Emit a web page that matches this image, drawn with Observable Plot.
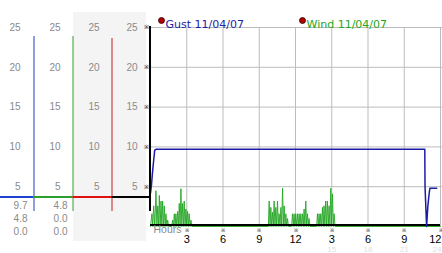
<!DOCTYPE html>
<html>
<head>
<meta charset="utf-8">
<script src="https://cdn.jsdelivr.net/npm/d3@7"></script>
<script src="https://cdn.jsdelivr.net/npm/@observablehq/plot@0.6"></script>
<style>
  html, body { margin: 0; padding: 0; background: #fff; }
  #wrap { position: relative; width: 442px; height: 253px; overflow: hidden; }
  #wrap svg { position: absolute; left: 0; top: 0; background: transparent; }
</style>
</head>
<body>
<div id="wrap"></div>
<script>
// ---------- data ----------
const yTicks = [5, 10, 15, 20, 25];
const hourTicks = [3, 6, 9, 12, 15, 18, 21, 24];
const hourLabels = ["3", "6", "9", "12", "3", "6", "9", "12"];
const faintHours = [15, 18, 21, 24];
const faintLabels = ["15", "18", "21", "24"];
const seriesNames = ["Gust 11/04/07", "Wind 11/04/07"];
const gustReadouts = ["9.7", "4.8", "0.0"];
const windReadouts = ["4.8", "0.0", "0.0"];

const gustHours  = [0,   0.08, 0.16, 0.25, 0.35, 0.45, 22.7, 22.72, 22.85, 22.95, 23.05, 23.12, 23.68];
const gustSpeeds = [4.2, 5.2,  6.7,  8.1,  9.6,  9.7,  9.7,  5.0,   0.0,   2.5,   4.0,   4.8,   4.8];

const windReadings = [
  [0,0],[0.12,1.6],[0.19,0],[0.26,2.6],[0.36,0],[0.45,4.5],[0.53,0],[0.6,2.6],[0.67,0],[0.73,3.9],
  [0.8,0],[0.87,3.2],[0.94,0],[1.0,3.2],[1.07,0],[1.14,2.6],[1.21,0],[1.28,1.6],[1.35,0],[1.42,0.8],[1.5,0],
  [1.76,0],[1.83,0.8],[1.9,0],[1.97,1.6],[2.04,0],[2.1,1.6],[2.18,0],[2.25,1.9],[2.32,0],[2.38,2.9],
  [2.45,0],[2.52,4.75],[2.59,0],[2.66,2.9],[2.73,0],[2.79,3.2],[2.86,0],[2.93,2.2],[3.0,0],[3.07,1.9],
  [3.14,0],[3.2,1.6],[3.28,0],[3.35,0.8],[3.42,0],
  [9.75,0],[9.82,3.2],[9.89,0],[9.96,2.4],[10.03,0],[10.1,1.8],[10.17,0],[10.23,3.2],[10.3,0],[10.37,2.4],
  [10.44,0],[10.51,3.2],[10.58,0],[10.64,1.6],[10.72,0],[10.79,2.4],[10.86,0],[10.93,4.8],[11.0,0],[11.06,2.6],
  [11.13,0],[11.2,1.6],[11.27,0],[11.34,1.0],[11.41,0],
  [11.68,0],[11.75,1.6],[11.82,0],[11.88,1.6],[11.95,0],[12.02,1.6],[12.1,0],[12.17,1.6],[12.24,0],[12.3,1.6],
  [12.37,0],[12.44,1.6],[12.51,0],[12.58,1.6],[12.65,0],[12.71,2.2],[12.78,0],[12.85,3.2],[12.92,0],[12.99,1.6],
  [13.06,0],[13.12,1.0],[13.19,0],
  [13.75,0],[13.82,1.6],[13.89,0],[13.95,1.6],[14.02,0],[14.09,1.6],[14.16,0],[14.23,2.4],[14.3,0],[14.36,2.6],
  [14.43,0],[14.5,3.2],[14.57,0],[14.64,3.2],[14.71,0],[14.78,2.6],[14.85,0],[14.92,4.8],[14.99,0],[15.06,4.1],
  [15.13,0],[15.2,1.6],[15.27,0],[24,0]
];

// ---------- styles ----------
const GUST = "#1c1ca6";
const WIND = "#22a622";
const GRID = "#bcbcbc";
const LABEL = "#8a8a8a";
const NUM_FONT = "Liberation Sans, Arial, sans-serif";
const W = 442, H = 253, MT = 27, MB = 27;

const gust = gustHours.map((h, i) => ({h, v: gustSpeeds[i]}));
const wind = windReadings.map(([h, v]) => ({h, v}));
const ticks = hourTicks.map((h, i) => ({h, label: hourLabels[i]}));
const faint = faintHours.map((h, i) => ({h, label: faintLabels[i]}));
const lastHour = hourTicks[hourTicks.length - 1];

// ---------- main chart ----------
const main = Plot.plot({
  width: W, height: H,
  marginLeft: 150, marginRight: 2, marginTop: MT, marginBottom: MB,
  style: {fontFamily: NUM_FONT, fontSize: "10px", background: "transparent", overflow: "visible"},
  x: {domain: [0, 24], axis: null},
  y: {domain: [0, 25], axis: null},
  marks: [
    // grid
    Plot.ruleY(yTicks, {stroke: GRID, strokeWidth: 1, insetRight: -2}),
    Plot.ruleX(hourTicks, {y1: 0, y2: 25, stroke: GRID, strokeWidth: 1}),
    // data
    Plot.line(wind, {x: "h", y: "v", stroke: WIND, strokeWidth: 0.9}),
    Plot.ruleY([0], {stroke: "#000", strokeWidth: 2, dy: -1.5}),
    Plot.line(gust, {x: "h", y: "v", stroke: GUST, strokeWidth: 1.5}),
    // left axis
    Plot.ruleX([0], {y1: 0, y2: 25, stroke: "#000", strokeWidth: 2, insetTop: -15, insetBottom: 1, dx: -0.5}),
    // tick markers
    Plot.text(yTicks, {x: 0, y: d => d, text: () => "※", dx: -4, fontSize: 6, fill: "#000"}),
    Plot.text(hourTicks, {x: d => d, y: 0, text: () => "※", dy: 4, fontSize: 5, fill: "#000"}),
    // x tick labels (last one kept inside the right edge)
    Plot.text(ticks.filter(d => d.h < lastHour), {x: "h", y: 0, text: "label", dy: 13, fontSize: 11, fill: "#000"}),
    Plot.text(ticks.filter(d => d.h === lastHour), {x: "h", y: 0, text: "label", dy: 13, dx: 1, textAnchor: "end", fontSize: 11, fill: "#000"}),
    Plot.text(faint.filter(d => d.h < lastHour), {x: "h", y: 0, text: "label", dy: 23, fontSize: 8, fill: "#e0e0e0"}),
    Plot.text(faint.filter(d => d.h === lastHour), {x: "h", y: 0, text: "label", dy: 23, dx: 1, textAnchor: "end", fontSize: 8, fill: "#e0e0e0"}),
    Plot.text(["Hours"], {frameAnchor: "bottom-left", dx: 3, dy: 6, textAnchor: "start", fontSize: 10.5, fill: LABEL})
  ]
});

// legend
const legend = Plot.plot({
  width: W, height: H,
  marginLeft: 150, marginRight: 2, marginTop: MT, marginBottom: MB,
  style: {fontFamily: "DejaVu Sans, sans-serif", fontSize: "11px", background: "transparent"},
  x: {domain: [0, 24], axis: null},
  y: {domain: [0, 25], axis: null},
  marks: [
    Plot.dot([seriesNames[0]], {frameAnchor: "top-left", dx: 11, dy: -7, r: 3, fill: "#b00000", stroke: "#300", strokeWidth: 0.8}),
    Plot.text([seriesNames[0]], {frameAnchor: "top-left", dx: 15, dy: -7, text: d => d, textAnchor: "start", fill: GUST}),
    Plot.dot([seriesNames[1]], {frameAnchor: "top-left", dx: 152, dy: -7, r: 3, fill: "#b00000", stroke: "#300", strokeWidth: 0.8}),
    Plot.text([seriesNames[1]], {frameAnchor: "top-left", dx: 156, dy: -7, text: d => d, textAnchor: "start", fill: WIND})
  ]
});

// ---------- left panel ----------
const colRight = [20, 60, 99, 137];
const colLabels = colRight.flatMap((c, ci) => yTicks.map(t => ({c: ci, t})));
const readRight = [27, 67];
const rowDy = [-21, -7.7, 5.7];
const readoutMarks = [gustReadouts, windReadouts].flatMap((list, col) =>
  list.map((t, row) => Plot.text([t], {x: readRight[col], y: 0, dy: rowDy[row], text: d => d, textAnchor: "end", fill: LABEL}))
);

const left = Plot.plot({
  width: 150, height: H,
  marginLeft: 0, marginRight: 0, marginTop: MT, marginBottom: MB,
  style: {fontFamily: NUM_FONT, fontSize: "10px", background: "transparent", overflow: "visible"},
  x: {domain: [0, 150], range: [0, 150], axis: null},
  y: {domain: [0, 25], axis: null},
  marks: [
    Plot.rect([0], {x1: 73, x2: 146, y1: 0, y2: 25, insetTop: -15, insetBottom: -15, fill: "#f4f4f4"}),
    Plot.ruleX([33.5], {y1: 0, y2: 25, insetTop: -15, insetBottom: -9, stroke: "#1f3fc0", strokeWidth: 1}),
    Plot.ruleX([72.5], {y1: 0, y2: 25, insetTop: -15, insetBottom: -9, stroke: "#2ca02c", strokeWidth: 1}),
    Plot.ruleX([111.5], {y1: 0, y2: 25, insetTop: -15, insetBottom: -11, stroke: "#c02020", strokeWidth: 1}),
    Plot.ruleY([0], {x1: 0, x2: 33.5, dy: -29.5, stroke: "#1f3fd0", strokeWidth: 2}),
    Plot.ruleY([0], {x1: 33.5, x2: 72.5, dy: -29.5, stroke: "#2ca02c", strokeWidth: 2}),
    Plot.ruleY([0], {x1: 72.5, x2: 111.5, dy: -29.5, stroke: "#e01010", strokeWidth: 2}),
    Plot.ruleY([0], {x1: 111.5, x2: 150, dy: -29.5, stroke: "#000", strokeWidth: 2}),
    Plot.text(colLabels, {x: d => colRight[d.c], y: "t", text: d => String(d.t), textAnchor: "end", fill: LABEL}),
    ...readoutMarks
  ]
});

const wrap = document.getElementById("wrap");
wrap.appendChild(left);
wrap.appendChild(main);
wrap.appendChild(legend);
</script>
</body>
</html>
